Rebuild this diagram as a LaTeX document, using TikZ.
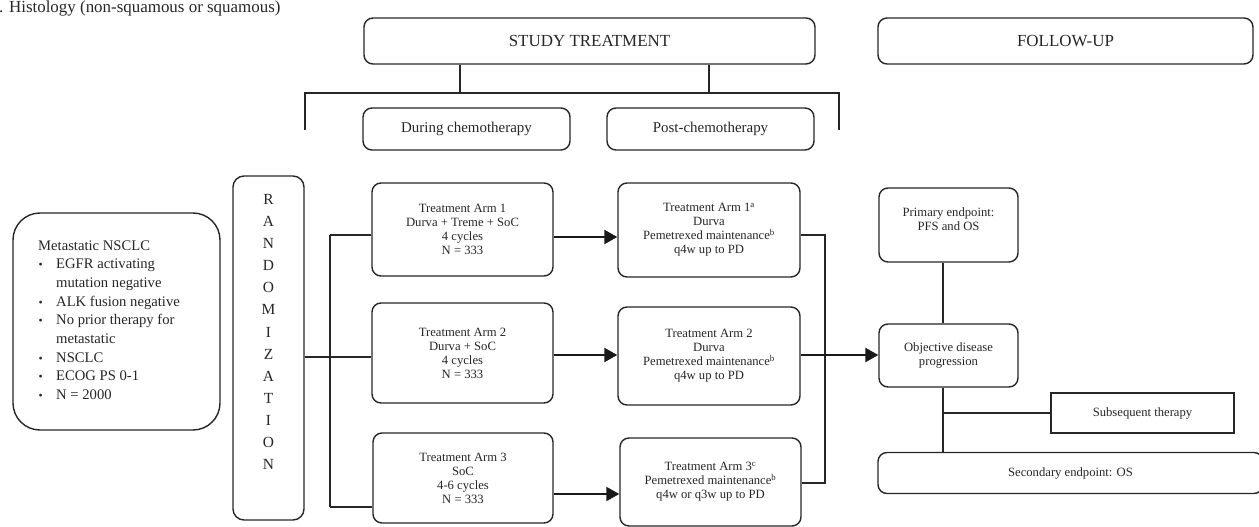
\documentclass[tikz,border=0pt]{standalone}
\usepackage{fontspec}
\setmainfont{Liberation Serif}
\usetikzlibrary{arrows.meta}
\newcommand\fsz[2]{\fontsize{#1}{#2}\selectfont}
\begin{document}
\begin{tikzpicture}[x=1bp,y=-1bp,
  rbox/.style={draw=black!85, line width=1.4bp, rounded corners=9bp, align=center, inner sep=0pt, text=black!85, font=\fsz{12.7}{14}},
  sbox/.style={draw=black!85, line width=1.4bp, align=center, inner sep=0pt, text=black!85, font=\fsz{12.7}{14}},
  txt/.style={align=center, inner sep=0pt, text=black!85, font=\fsz{12.7}{14}},
  ln/.style={draw=black!85, line width=1.3bp},
  arr/.style={draw=black!90, line width=2.4bp, -{Triangle[length=13bp,width=14bp]}},
  arrthin/.style={draw=black!90, line width=2bp, -{Triangle[length=13bp,width=14bp]}}]
\useasboundingbox (0,0) rectangle (1259,527);

% top note
\node[anchor=base west, inner sep=0pt, text=black!85, font=\fsz{17}{20}] (hist) at (-1,13) {. Histology (non-squamous or squamous)};

% headers
\node[rbox, minimum width=451bp, minimum height=46bp, font=\fsz{17}{20}] (study) at (589.5,41) {STUDY TREATMENT};
\node[rbox, minimum width=375bp, minimum height=46bp, font=\fsz{17}{20}] (follow) at (1065.5,41) {FOLLOW-UP};
\node[rbox, minimum width=207bp, minimum height=42bp, font=\fsz{15}{18}] (during) at (466.5,129) {During chemotherapy};
\node[rbox, minimum width=207bp, minimum height=42bp, font=\fsz{15}{18}] (post) at (710.5,129) {Post-chemotherapy};

\coordinate (hl) at (305,93);
\coordinate (hr) at (839,93);
\coordinate (sl) at (305,130);
\coordinate (sr) at (839,130);
\coordinate (st1) at (460,93);
\coordinate (st2) at (709,93);
\draw[ln] (study.south -| st1) -- (st1);
\draw[ln] (study.south -| st2) -- (st2);
\draw[ln] (sl) -- (hl) -- (hr) -- (sr);

% population
\node[rbox, rounded corners=27bp, minimum width=207bp, minimum height=217bp] (meta) at (116.5,321.5) {};
\node[anchor=west, align=left, inner sep=0pt, text=black!85, font=\fsz{14.7}{18.75}] (metatxt) at (38,320) {Metastatic NSCLC\\
\makebox[18bp][l]{\hspace{0.5bp}\scalebox{0.8}{\textbullet}}EGFR activating\\
\hspace*{18bp}mutation negative\\
\makebox[18bp][l]{\hspace{0.5bp}\scalebox{0.8}{\textbullet}}ALK fusion negative\\
\makebox[18bp][l]{\hspace{0.5bp}\scalebox{0.8}{\textbullet}}No prior therapy for\\
\hspace*{18bp}metastatic\\
\makebox[18bp][l]{\hspace{0.5bp}\scalebox{0.8}{\textbullet}}NSCLC\\
\makebox[18bp][l]{\hspace{0.5bp}\scalebox{0.8}{\textbullet}}ECOG PS 0-1\\
\makebox[18bp][l]{\hspace{0.5bp}\scalebox{0.8}{\textbullet}}N = 2000};

% randomization
\node[rbox, rounded corners=11bp, minimum width=71bp, minimum height=344bp] (rand) at (268.5,348) {};
\node[align=center, inner sep=0pt, text=black!85, font=\fsz{15.5}{22.2}] (randtxt) at (268.5,332) {R\\A\\N\\D\\O\\M\\I\\Z\\A\\T\\I\\O\\N};

% arms, during chemotherapy
\node[rbox, minimum width=181bp, minimum height=93bp] (a1l) at (462.5,229.5) {Treatment Arm 1\\Durva + Treme + SoC\\4 cycles\\N = 333};
\node[rbox, minimum width=181bp, minimum height=100bp] (a2l) at (462.5,353) {Treatment Arm 2\\Durva + SoC\\4 cycles\\N = 333};
\node[rbox, minimum width=180bp, minimum height=90bp] (a3l) at (463,478) {Treatment Arm 3\\SoC\\4-6 cycles\\N = 333};

% arms, post-chemotherapy
\node[rbox, minimum width=182bp, minimum height=94bp] (a1r) at (709,230) {Treatment Arm 1\textsuperscript{a}\\Durva\\Pemetrexed maintenance\textsuperscript{b}\\q4w up to PD};
\node[rbox, minimum width=182bp, minimum height=98bp] (a2r) at (709,356) {Treatment Arm 2\\Durva\\Pemetrexed maintenance\textsuperscript{b}\\q4w up to PD};
\node[rbox, minimum width=181bp, minimum height=88bp] (a3r) at (710.5,482) {Treatment Arm 3\textsuperscript{c}\\Pemetrexed maintenance\textsuperscript{b}\\q4w or q3w up to PD};

% follow-up column
\node[rbox, minimum width=139bp, minimum height=74bp] (prim) at (948.5,225) {};
\node[txt] (primtxt) at (948.5,219.5) {Primary endpoint:\\PFS and OS};
\node[rbox, minimum width=139bp, minimum height=63bp] (obj) at (948.5,355.5) {Objective disease\\progression};
\node[sbox, minimum width=183bp, minimum height=40bp] (subs) at (1142.5,413) {Subsequent therapy};
\node[rbox, minimum width=385bp, minimum height=41bp] (sec) at (1070.5,473) {Secondary endpoint: OS};

% randomization connectors
\coordinate (rj) at (330,357);
\coordinate (rt) at (330,235);
\coordinate (rb) at (330,507);
\draw[ln] (rand.east |- rj) -- (rj);
\draw[ln] (rt) -- (rb);
\draw[ln] (rt) -- (rt -| a1l.west);
\draw[ln] (rj) -- (rj -| a2l.west);
\draw[ln] (rb) -- (rb -| a3l.west);

% arm arrows
\coordinate (y1) at (0,237);
\coordinate (y2) at (0,355);
\coordinate (y3) at (0,494);
\draw[arr] (a1l.east |- y1) -- (a1r.west |- y1);
\draw[arr] (a2l.east |- y2) -- (a2r.west |- y2);
\draw[arrthin] (a3l.east |- y3) -- (a3r.west |- y3);

% post-chemo connectors
\coordinate (vt) at (825,235);
\coordinate (vb) at (825,483);
\draw[ln] (a1r.east |- vt) -- (vt) -- (vb) -- (a3r.east |- vb);
\draw[arr] (a2r.east |- y2) -- (obj.west |- y2);

% follow-up connectors
\coordinate (fx) at (943,413);
\draw[ln] (prim.south -| fx) -- (obj.north -| fx);
\draw[ln] (obj.south -| fx) -- (sec.north -| fx);
\draw[ln] (fx) -- (subs.west);
\end{tikzpicture}
\end{document}
